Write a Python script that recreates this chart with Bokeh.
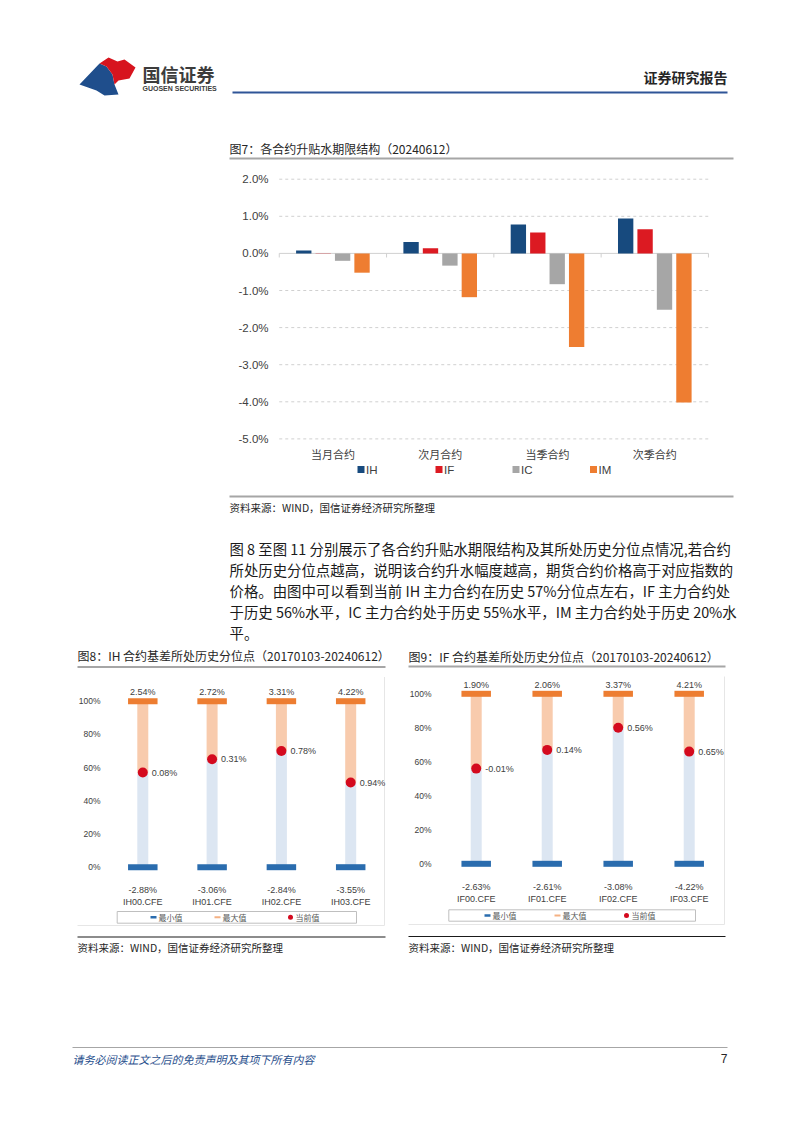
import numpy as np
from bokeh.plotting import figure
from bokeh.models import Range1d
from bokeh.embed import file_html
from bokeh.resources import INLINE
from bokeh.core.properties import value

# ---------------- data ----------------
terms = ["当月合约", "次月合约", "当季合约", "次季合约"]
series = ["IH", "IF", "IC", "IM"]
ih_basis = [0.08, 0.31, 0.78, 0.94]
if_basis = [-0.01, 0.14, 0.56, 0.65]
ic_basis = [-0.20, -0.33, -0.83, -1.52]
im_basis = [-0.52, -1.18, -2.52, -4.02]
y7_ticks = [2, 1, 0, -1, -2, -3, -4, -5]

ih_contracts = ["IH00.CFE", "IH01.CFE", "IH02.CFE", "IH03.CFE"]
ih_min = [-2.88, -3.06, -2.84, -3.55]
ih_max = [2.54, 2.72, 3.31, 4.22]
ih_cur = [0.08, 0.31, 0.78, 0.94]
ih_pct = [57, 65, 70, 51]

if_contracts = ["IF00.CFE", "IF01.CFE", "IF02.CFE", "IF03.CFE"]
if_min = [-2.63, -2.61, -3.08, -4.22]
if_max = [1.90, 2.06, 3.37, 4.21]
if_cur = [-0.01, 0.14, 0.56, 0.65]
if_pct = [56, 67, 80, 66]

pct_ticks = [0, 20, 40, 60, 80, 100]

paragraph = [
    "图 8 至图 11 分别展示了各合约升贴水期限结构及其所处历史分位点情况,若合约",
    "所处历史分位点越高，说明该合约升水幅度越高，期货合约价格高于对应指数的",
    "价格。由图中可以看到当前 IH 主力合约在历史 57%分位点左右，IF 主力合约处",
    "于历史 56%水平，IC 主力合约处于历史 55%水平，IM 主力合约处于历史 20%水",
    "平。",
]

CJK = value("Noto Sans CJK SC")
LAT = value("Liberation Sans")

# ---------------- page canvas (page pixel coordinates) ----------------
PX0, PX1 = 0, 786
PY0, PY1 = 1117, 0
p = figure(width=786, height=1117, x_range=Range1d(PX0, PX1), y_range=Range1d(PY0, PY1),
           output_backend="svg", toolbar_location=None, min_border=0,
           x_axis_type=None, y_axis_type=None)
p.outline_line_color = None
p.background_fill_color = "white"
p.border_fill_color = "white"


def lin_range(pa, va, pb, vb, p0, p1):
    s = (vb - va) / (pb - pa)
    return Range1d(start=va + (p0 - pa) * s, end=va + (p1 - pa) * s)


p.extra_x_ranges = {
    "c7x": lin_range(332.4, 0, 439.7, 1, PX0, PX1),
    "c8x": lin_range(142.3, 0, 211.6, 1, PX0, PX1),
    "c9x": lin_range(475.7, 0, 546.7, 1, PX0, PX1),
}
p.extra_y_ranges = {
    "c7y": lin_range(252.9, 0, 178.7, 2, PY0, PY1),
    "c8y": lin_range(866.7, 0, 700.7, 100, PY0, PY1),
    "c9y": lin_range(863.3, 0, 693.3, 100, PY0, PY1),
}

# ---------------- header ----------------
p.patch([79, 99, 106, 112, 114, 118, 104, 96], [84, 63, 66, 74, 84, 94, 95, 90],
        fill_color="#1f4e8c", line_color=None)
p.patch([99, 108, 117, 124, 135, 129, 118, 114, 112, 106], [63, 57, 61, 59, 67, 78, 80, 84, 74, 66],
        fill_color="#d7141e", line_color=None)
p.text(x=[142], y=[73], text=["国信证券"], text_font=CJK, text_font_size="18px",
       text_font_style="bold", text_color="#3c3c3c", text_baseline="middle")
p.text(x=[142], y=[88], text=["GUOSEN SECURITIES"], text_font=LAT, text_font_size="7px",
       text_font_style="bold", text_color="#3c3c3c", text_baseline="middle")
p.text(x=[727], y=[76], text=["证券研究报告"], text_font=CJK, text_font_size="14px",
       text_font_style="bold", text_color="#262626", text_baseline="middle", text_align="right")
p.segment(x0=[232], y0=[92], x1=[727], y1=[92], line_color="#2f5597", line_width=2)

# ---------------- chart 7 ----------------
p.text(x=[229], y=[148], text=["图7：各合约升贴水期限结构（20240612）"], text_font=CJK,
       text_font_size="12px", text_color="#262626", text_baseline="middle")
p.segment(x0=[229], y0=[158], x1=[733], y1=[158], line_color="#a6a6a6", line_width=2)

idx = np.arange(len(terms))
grid_y = [t for t in y7_ticks if t != 0]
p.segment(x0=-0.5, x1=3.5, y0=grid_y, y1=grid_y, line_color="#d0d0d0", line_width=1,
          line_dash="3 3", x_range_name="c7x", y_range_name="c7y")
p.segment(x0=-0.5, x1=3.5, y0=0, y1=0, line_color="#d0d0d0", line_width=1,
          x_range_name="c7x", y_range_name="c7y")
bounds = [-0.5, 0.5, 1.5, 2.5, 3.5]
p.segment(x0=bounds, x1=bounds, y0=0, y1=-0.11, line_color="#d0d0d0", line_width=1,
          x_range_name="c7x", y_range_name="c7y")

step, bw = 0.181, 0.143
offs = (np.arange(4) - 1.5) * step
colors7 = ["#174a7e", "#dc1a22", "#a6a6a6", "#ee7d31"]
for k, vals in enumerate([ih_basis, if_basis, ic_basis, im_basis]):
    p.vbar(x=idx + offs[k], bottom=0, top=vals, width=bw, fill_color=colors7[k],
           line_color=None, x_range_name="c7x", y_range_name="c7y")

p.text(x=[268] * len(y7_ticks), y=y7_ticks, text=[f"{t:.1f}%" for t in y7_ticks],
       text_font=LAT, text_font_size="11.5px", text_color="#404040",
       text_align="right", text_baseline="middle", y_range_name="c7y")
p.text(x=list(idx), y=[453] * len(terms), text=terms, text_font=CJK, text_font_size="11px",
       text_color="#404040", text_align="center", text_baseline="middle", x_range_name="c7x")

leg_x = [360.5, 438.5, 515.5, 593]
p.scatter(x=leg_x, y=[469] * 4, marker="square", size=7, fill_color=colors7, line_color=None)
p.text(x=[x + 5 for x in leg_x], y=[469] * 4, text=series, text_font=LAT, text_font_size="11.5px",
       text_color="#404040", text_baseline="middle")

p.segment(x0=[229], y0=[496], x1=[733], y1=[496], line_color="#a6a6a6", line_width=2)
p.text(x=[229], y=[507], text=["资料来源：WIND，国信证券经济研究所整理"], text_font=CJK,
       text_font_size="10.5px", text_color="#262626", text_baseline="middle")

# ---------------- paragraph ----------------
p.text(x=[229] * len(paragraph), y=[547.5 + 21 * i for i in range(len(paragraph))], text=paragraph,
       text_font=CJK, text_font_size="14.4px", text_color="#1a1a1a", text_baseline="middle")


# ---------------- small charts ----------------
def small_chart(xr, yr, spacing, title, tx, ty, line_y, x_right, tick_x,
                contracts, mins, maxs, curs, pcts, box, leg_items, bottom_y, black_y, src_y):
    n = len(contracts)
    ix = np.arange(n)
    col_w = 11.0 / spacing
    cap_w = 29.5 / spacing
    p.text(x=[tx], y=[ty], text=[title], text_font=CJK, text_font_size="12px",
           text_color="#262626", text_baseline="middle")
    p.segment(x0=[tx], y0=[line_y], x1=[x_right], y1=[line_y], line_color="#a6a6a6", line_width=2)
    # faint chart frame
    p.segment(x0=[tx, x_right - 1], y0=[bottom_y, line_y + 10], x1=[x_right - 1, x_right - 1],
              y1=[bottom_y, bottom_y], line_color="#e6e6e6", line_width=1)
    p.text(x=[tick_x] * len(pct_ticks), y=pct_ticks, text=[f"{t}%" for t in pct_ticks],
           text_font=LAT, text_font_size="8.5px", text_color="#404040", text_align="right",
           text_baseline="middle", y_range_name=yr)
    p.vbar(x=ix, bottom=0, top=pcts, width=col_w, fill_color="#dce6f2", line_color=None,
           x_range_name=xr, y_range_name=yr)
    p.vbar(x=ix, bottom=pcts, top=100, width=col_w, fill_color="#f8cbad", line_color=None,
           x_range_name=xr, y_range_name=yr)
    p.rect(x=ix, y=100, width=cap_w, height=6, height_units="screen", fill_color="#ed7d31",
           line_color=None, x_range_name=xr, y_range_name=yr)
    p.rect(x=ix, y=0, width=cap_w, height=6, height_units="screen", fill_color="#2a6cae",
           line_color=None, x_range_name=xr, y_range_name=yr)
    p.scatter(x=ix, y=pcts, size=10, fill_color="#d40a1e", line_color=None,
              x_range_name=xr, y_range_name=yr)
    p.text(x=ix, y=pcts, text=[f"{v:.2f}%" for v in curs], x_offset=9, text_font=LAT,
           text_font_size="9px", text_color="#404040", text_baseline="middle",
           x_range_name=xr, y_range_name=yr)
    p.text(x=ix, y=[100] * n, text=[f"{v:.2f}%" for v in maxs], y_offset=-9, text_font=LAT,
           text_font_size="9px", text_color="#404040", text_align="center", text_baseline="middle",
           x_range_name=xr, y_range_name=yr)
    p.text(x=ix, y=[0] * n, text=[f"{v:.2f}%" for v in mins], y_offset=23, text_font=LAT,
           text_font_size="9px", text_color="#404040", text_align="center", text_baseline="middle",
           x_range_name=xr, y_range_name=yr)
    p.text(x=ix, y=[0] * n, text=contracts, y_offset=35, text_font=LAT,
           text_font_size="9px", text_color="#404040", text_align="center", text_baseline="middle",
           x_range_name=xr, y_range_name=yr)
    # legend box
    bx0, bx1, by0, by1 = box
    p.quad(left=[bx0], right=[bx1], top=[by0], bottom=[by1], fill_color=None,
           line_color="#bfbfbf", line_width=1)
    ly = (by0 + by1) / 2
    lx_min, lx_max, lx_cur = leg_items
    p.segment(x0=[lx_min], y0=[ly], x1=[lx_min + 6], y1=[ly], line_color="#2a6cae", line_width=2.5)
    p.segment(x0=[lx_max], y0=[ly], x1=[lx_max + 6], y1=[ly], line_color="#f4b183", line_width=2)
    p.scatter(x=[lx_cur + 3], y=[ly], size=5, fill_color="#d40a1e", line_color=None)
    p.text(x=[lx_min + 8, lx_max + 8, lx_cur + 8], y=[ly] * 3, text=["最小值", "最大值", "当前值"],
           text_font=CJK, text_font_size="8px", text_color="#595959", text_baseline="middle")
    p.segment(x0=[tx], y0=[black_y], x1=[x_right], y1=[black_y], line_color="#1a1a1a", line_width=1.2)
    p.text(x=[tx], y=[src_y], text=["资料来源：WIND，国信证券经济研究所整理"], text_font=CJK,
           text_font_size="10.5px", text_color="#262626", text_baseline="middle")


small_chart("c8x", "c8y", 69.3, "图8：IH 合约基差所处历史分位点（20170103-20240612）",
            77, 655, 666.5, 385, 100, ih_contracts, ih_min, ih_max, ih_cur, ih_pct,
            (116.7, 356, 911, 922.7), (150, 214, 287), 925, 936.5, 947)
small_chart("c9x", "c9y", 71.0, "图9：IF 合约基差所处历史分位点（20170103-20240612）",
            408, 656, 666, 725, 431, if_contracts, if_min, if_max, if_cur, if_pct,
            (448.3, 695, 909.3, 920.7), (484, 554, 623), 924, 936, 947)

# ---------------- footer ----------------
p.segment(x0=[72], y0=[1047], x1=[727], y1=[1047], line_color="#a6a6a6", line_width=1)
p.text(x=[72], y=[1058], text=["请务必阅读正文之后的免责声明及其项下所有内容"], text_font=CJK,
       text_font_size="11px", text_font_style="italic", text_color="#1f4e8c", text_baseline="middle")
p.text(x=[727], y=[1058], text=["7"], text_font=LAT, text_font_size="12px", text_color="#262626",
       text_align="right", text_baseline="middle")

open("out.html", "w").write(file_html(p, INLINE))
